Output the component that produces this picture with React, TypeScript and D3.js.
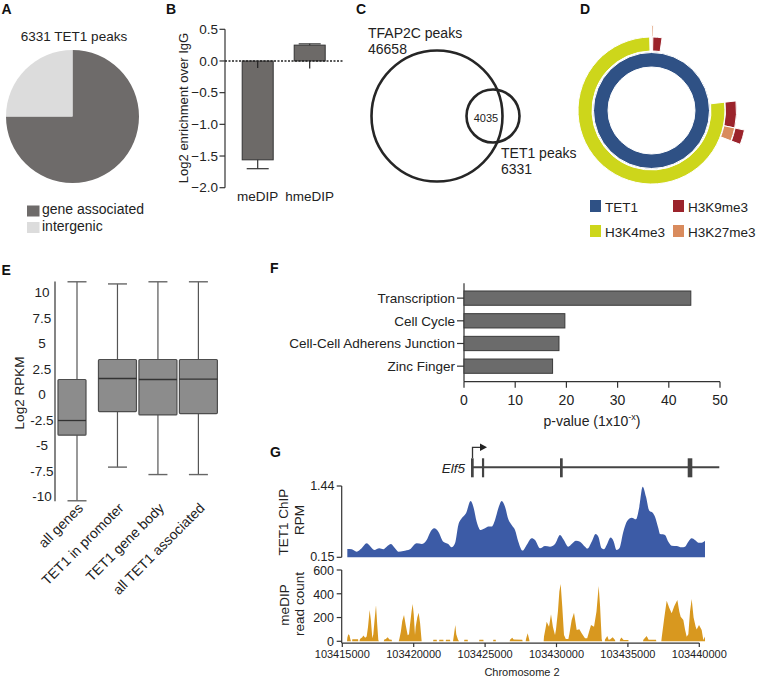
import React from "react";
import * as d3 from "d3";

const FONT = "'Liberation Sans', Arial, Helvetica, sans-serif";

// ---------- Panel A data ----------
const pieCategories = ["gene associated", "intergenic"];
const pieValues = [75, 25];
const pieColors = ["#6e6b6a", "#dcdcdc"];
const pieTitle = "6331 TET1 peaks";

// ---------- Panel B data ----------
const enrichCategories = ["meDIP", "hmeDIP"];
const enrichValues = [-1.56, 0.25];
const enrichErrEnd = [-1.7, 0.27];
const enrichLowStub = [-0.11, -0.12];
const enrichTicks = [0.5, 0, -0.5, -1, -1.5, -2];

// ---------- Panel C data ----------
const vennNames = ["TFAP2C peaks", "TET1 peaks"];
const vennCounts = [46658, 6331];
const vennOverlap = 4035;

// ---------- Panel D data ----------
const sbIds = ["TET1", "TET1/a", "TET1/a/b", "TET1/c", "TET1/d", "TET1/e", "TET1/e/f", "TET1/e/g", "TET1/e/g/h", "TET1/e/i", "TET1/j"];
const sbMarks = ["TET1", "H3K27me3", "H3K27me3", "H3K9me3", "", "H3K4me3", "H3K9me3", "H3K27me3", "H3K9me3", "", ""];
const sbValues = [0, 0, 0.3, 2.0, 20.9, 0, 5.1, 0, 2.5, 68.8, 0.4];
const legendMarks = ["TET1", "H3K9me3", "H3K4me3", "H3K27me3"];
const markColors: Record<string, string> = {
  TET1: "#2f5185",
  H3K4me3: "#cdd61b",
  H3K9me3: "#9b232b",
  H3K27me3: "#d98b5d",
};

// ---------- Panel E data ----------
const boxCategories = ["all genes", "TET1 in promoter", "TET1 gene body", "all TET1 associated"];
const boxMin = [-10.4, -7.1, -7.83, -7.83];
const boxQ1 = [-3.97, -1.65, -1.98, -1.85];
const boxMedian = [-2.53, 1.59, 1.49, 1.52];
const boxQ3 = [1.49, 3.45, 3.45, 3.45];
const boxMax = [11.07, 10.86, 11.07, 11.07];
const boxTicks = [10, 7.5, 5, 2.5, 0, -2.5, -5, -7.5, -10];

// ---------- Panel F data ----------
const goTerms = ["Transcription", "Cell Cycle", "Cell-Cell Adherens Junction", "Zinc Finger"];
const goValues = [44.3, 19.7, 18.55, 17.3];
const goTicks = [0, 10, 20, 30, 40, 50];

// ---------- Panel G data ----------
const chromStart = 103415000;
const chromEnd = 103440000;
const chromTicks = [103415000, 103420000, 103425000, 103430000, 103435000, 103440000];
const geneName = "Elf5";
const geneStart = 103424062;
const geneEnd = 103441400;
const exonStarts = [103424013, 103424780, 103430246, 103439188];
const exonEnds = [103424202, 103424923, 103430435, 103439511];

const chipOffsets = [352, 656, 1006, 1356, 1706, 1939, 2243, 2593, 2873, 3107, 3410, 3690, 3924, 4274, 4741, 5208, 5558, 5908, 6142, 6445, 6725, 7075, 7425, 7659, 7892, 8126, 8359, 8663, 8990, 9176, 9410, 9690, 9993, 10227, 10460, 10694, 10927, 11161, 11394, 11627, 11861, 12094, 12327, 12631, 12911, 13261, 13494, 13845, 14195, 14545, 14895, 15245, 15479, 15829, 16063, 16366, 16646, 16996, 17160, 17463, 17743, 17930, 18163, 18327, 18514, 18794, 18980, 19214, 19400, 19680, 19960, 20264, 20567, 20801, 21034, 21268, 21501, 21735, 21898, 22131, 22248, 22435, 22598, 22831, 23065, 23415, 23765, 23998, 24232, 24466, 24699, 24932, 25166, 25399];
const chipValues = [0.3, 0.295, 0.252, 0.313, 0.403, 0.355, 0.283, 0.313, 0.295, 0.343, 0.391, 0.313, 0.252, 0.265, 0.295, 0.403, 0.391, 0.463, 0.596, 0.674, 0.614, 0.433, 0.391, 0.331, 0.403, 0.735, 0.855, 0.946, 1.169, 1.066, 0.795, 0.644, 0.674, 0.705, 0.705, 0.825, 1.036, 1.169, 1.066, 0.837, 0.735, 0.644, 0.433, 0.271, 0.373, 0.494, 0.463, 0.313, 0.355, 0.343, 0.391, 0.554, 0.476, 0.343, 0.391, 0.451, 0.433, 0.343, 0.307, 0.433, 0.572, 0.524, 0.313, 0.295, 0.373, 0.506, 0.451, 0.283, 0.313, 0.614, 0.813, 0.867, 0.837, 1.066, 1.428, 1.247, 0.994, 0.958, 0.885, 0.674, 0.572, 0.566, 0.554, 0.433, 0.361, 0.355, 0.331, 0.343, 0.433, 0.494, 0.463, 0.415, 0.415, 0.451];

// null separates islands of coverage
const medipOffsets = [
  330, 352, 420, 500, 560, 609, null,
  690, 700, 1100, 1123, null,
  1200, 1240, 1400, 1473, 1600, 1706, 1800, 1916, 2000, 2103, 2173, 2260, 2360, 2440, 2523, 2560, null,
  2900, 2943, 3050, 3177, 3300, 3457, 3480, null,
  3950, 3994, 4100, 4200, 4321, 4450, 4580, 4671, 4741, 4850, 4928, 5000, 5091, 5138, 5250, 5348, 5450, 5558, null,
  6360, 6375, 6609, 6625, null,
  6780, 6795, 7075, 7090, null,
  7245, 7262, 7542, 7560, null,
  7750, 7776, 7860, 7916, 7980, 8100, 8173, null,
  8530, 8546, 8780, 8795, null,
  9580, 9597, 9877, 9895, null,
  10560, 10577, 10741, 10760, null,
  11720, 11744, 11900, 12000, 12600, 12631, null,
  12840, 12865, 12981, 13098, 13110, null,
  14100, 14125, 14250, 14312, 14475, 14615, 14750, 14895, 14965, 15100, 15200, 15292, 15400, 15525, 15650, 15830, 15899, 16063, 16226, 16413, 16599, 16763, 16996, 17150, 17230, 17417, 17627, 17800, 17954, 18050, 18164, 18200, null,
  18380, 18397, 18560, 18650, 18747, 18934, 19097, 19120, null,
  19430, 19447, 19541, 19700, 20031, 20050, null,
  21060, 21081, 21315, 21450, 21968, 21990, null,
  22340, 22366, 22550, 22716, 22900, 23066, 23252, 23462, 23600, 23696, 23882, 24000, 24116, 24232, 24350, 24466, 24600, 24746, 24816, 24980, 25166, 25283, 25400, 25401,
];
const medipValues = [
  0, 30, 59, 50, 20, 0, null,
  0, 18, 18, 0, null,
  0, 20, 35, 48, 30, 40, 120, 264, 180, 25, 60, 180, 303, 150, 10, 0, null,
  0, 15, 20, 34, 15, 12, 0, null,
  0, 20, 80, 170, 222, 130, 50, 60, 140, 250, 314, 230, 53, 120, 200, 241, 150, 0, null,
  0, 14, 14, 0, null,
  0, 14, 14, 0, null,
  0, 14, 14, 0, null,
  0, 20, 90, 137, 60, 15, 0, null,
  0, 14, 14, 0, null,
  0, 14, 14, 0, null,
  0, 14, 14, 0, null,
  0, 12, 30, 15, 14, 0, null,
  0, 20, 67, 10, 0, null,
  0, 40, 120, 165, 123, 227, 120, 53, 100, 250, 420, 482, 300, 53, 20, 20, 60, 180, 241, 95, 101, 67, 25, 25, 60, 137, 123, 250, 466, 300, 20, 0, null,
  0, 15, 45, 12, 15, 34, 10, 0, null,
  0, 12, 31, 10, 10, 0, null,
  0, 12, 45, 12, 12, 0, null,
  0, 30, 200, 342, 280, 235, 297, 348, 250, 207, 180, 100, 39, 60, 250, 356, 200, 123, 100, 137, 95, 11, 40, 0,
];
const chipTicks = [1.44, 0.15];
const medipTicks = [0, 200, 400, 600];

const TXT = "#222";

function PanelLabel({ x, y, t }: { x: number; y: number; t: string }) {
  return (
    <text x={x} y={y} fontSize={14} fontWeight="bold" fill="#111">
      {t}
    </text>
  );
}

function PanelA() {
  const cx = 72.5, cy = 116.5, r = 66.5;
  const arcs = d3.pie<number>().sort(null)(pieValues);
  const arcGen = d3.arc<d3.PieArcDatum<number>>().innerRadius(0).outerRadius(r);
  return (
    <g>
      <PanelLabel x={1.5} y={14} t="A" />
      <text x={74} y={41} textAnchor="middle" fontSize={13.5} fill={TXT}>{pieTitle}</text>
      <g transform={`translate(${cx},${cy})`}>
        {arcs.map((a, i) => (
          <path key={i} d={arcGen(a) || ""} fill={pieColors[i]} />
        ))}
      </g>
      {pieCategories.map((c, i) => (
        <g key={c}>
          <rect x={27} y={205.5 + i * 16.5} width={12.5} height={11} fill={pieColors[i]} />
          <text x={42} y={214 + i * 16.5} fontSize={14} fill={TXT}>{c}</text>
        </g>
      ))}
    </g>
  );
}

function PanelB() {
  const y = d3.scaleLinear().domain([-2, 0.5]).range([187.7, 29.3]);
  const x = d3.scalePoint<string>().domain(enrichCategories).range([257.7, 309.7]);
  const axisX = 225;
  const bw = 31;
  return (
    <g>
      <PanelLabel x={166} y={14} t="B" />
      <line x1={axisX} x2={axisX} y1={y(0.5)} y2={y(-2)} stroke="#333" strokeWidth={1.2} />
      {enrichTicks.map((t) => (
        <g key={t}>
          <line x1={axisX - 5.5} x2={axisX} y1={y(t)} y2={y(t)} stroke="#333" strokeWidth={1.2} />
          <text x={218} y={y(t)} dy="0.35em" textAnchor="end" fontSize={13.5} fill={TXT}>
            {d3.format(".1f")(t)}
          </text>
        </g>
      ))}
      <text transform={`translate(188,108) rotate(-90)`} textAnchor="middle" fontSize={13} fill={TXT}>
        Log2 enrichment over IgG
      </text>
      {enrichCategories.map((c, i) => {
        const cx = x(c)!;
        const v = enrichValues[i];
        const top = Math.min(y(v), y(0));
        const h = Math.abs(y(v) - y(0));
        return (
          <g key={c}>
            <rect x={cx - bw / 2} y={top} width={bw} height={h} fill="#6d6a68" stroke="#333" strokeWidth={1} />
            <line x1={cx} x2={cx} y1={y(v)} y2={y(enrichErrEnd[i])} stroke="#333" strokeWidth={1.2} />
            <line x1={cx - 11} x2={cx + 11} y1={y(enrichErrEnd[i])} y2={y(enrichErrEnd[i])} stroke="#333" strokeWidth={1.2} />
            <line x1={cx} x2={cx} y1={y(0)} y2={y(enrichLowStub[i])} stroke="#222" strokeWidth={1.2} />
            <text x={cx} y={201} textAnchor="middle" fontSize={13.5} fill={TXT}>{c}</text>
          </g>
        );
      })}
      <line x1={axisX} x2={343} y1={y(0)} y2={y(0)} stroke="#222" strokeWidth={1.3} strokeDasharray="2,1.5" />
    </g>
  );
}

function PanelC() {
  const rScale = d3.scaleSqrt().domain([0, vennCounts[0]]).range([0, 65.5]);
  const rBig = rScale(vennCounts[0]);
  const rSmall = 26.5;
  return (
    <g>
      <PanelLabel x={356} y={14} t="C" />
      <circle cx={437} cy={116} r={rBig} fill="none" stroke="#262626" strokeWidth={2.6} />
      <circle cx={493} cy={116} r={rSmall} fill="none" stroke="#262626" strokeWidth={2.6} />
      <text x={486} y={122} textAnchor="middle" fontSize={11} fill={TXT}>{vennOverlap}</text>
      <text x={368} y={38} fontSize={14} fill={TXT}>{vennNames[0]}</text>
      <text x={368} y={53.5} fontSize={14} fill={TXT}>{vennCounts[0]}</text>
      <text x={501} y={158} fontSize={14} fill={TXT}>{vennNames[1]}</text>
      <text x={501} y={173.5} fontSize={14} fill={TXT}>{vennCounts[1]}</text>
    </g>
  );
}

function PanelD() {
  const rows = sbIds.map((id, i) => ({
    id,
    parent: i === 0 ? null : id.slice(0, id.lastIndexOf("/")),
    mark: sbMarks[i],
    value: sbValues[i],
  }));
  const root = d3
    .stratify<any>()
    .id((d) => d.id)
    .parentId((d) => d.parent)(rows)
    .sum((d: any) => d.value);
  d3.partition<any>().size([2 * Math.PI, 1])(root);
  const inner = [43.5, 59.5, 74, 85.5];
  const outer = [58, 73.5, 85, 95];
  const arc = d3
    .arc<any>()
    .startAngle((d) => d.x0)
    .endAngle((d) => d.x1)
    .innerRadius((d) => inner[d.depth])
    .outerRadius((d) => outer[d.depth]);
  const nodes = root.descendants().filter((d: any) => d.data.mark !== "");
  return (
    <g>
      <PanelLabel x={580} y={14} t="D" />
      <g transform="translate(651.5,110.5)">
        {nodes.map((n: any) => (
          <path key={n.id} d={arc(n) || ""} fill={markColors[n.data.mark]} stroke="#fff" strokeWidth={1} />
        ))}
      </g>
      {legendMarks.map((m, i) => {
        const col = i % 2, row = Math.floor(i / 2);
        const lx = 590 + col * 83;
        const ly = 200 + row * 25;
        return (
          <g key={m}>
            <rect x={lx} y={ly} width={11} height={12} fill={markColors[m]} />
            <text x={lx + 15} y={ly + 11.5} fontSize={13.5} fill={TXT}>{m}</text>
          </g>
        );
      })}
    </g>
  );
}

function PanelE() {
  const y = d3.scaleLinear().domain([-10, 10]).range([496.7, 292.7]);
  const x = d3.scalePoint<string>().domain(boxCategories).range([77, 198.4]);
  const halfL = [19, 19, 19, 19];
  const halfR = [9, 19, 19, 19];
  const axisX = 55;
  return (
    <g>
      <PanelLabel x={1.5} y={275} t="E" />
      <line x1={axisX} x2={axisX} y1={y(11.1)} y2={y(-10.45)} stroke="#333" strokeWidth={1.2} />
      {boxTicks.map((t) => (
        <text key={t} x={42} y={y(t)} dy="0.35em" textAnchor="middle" fontSize={13.5} fill={TXT}>
          {t}
        </text>
      ))}
      <text transform="translate(24,393) rotate(-90)" textAnchor="middle" fontSize={13.5} fill={TXT}>
        Log2 RPKM
      </text>
      {boxCategories.map((c, i) => {
        const cx = x(c)!;
        return (
          <g key={c}>
            <line x1={cx} x2={cx} y1={y(boxMax[i])} y2={y(boxMin[i])} stroke="#555" strokeWidth={1.2} />
            <line x1={cx - 9.5} x2={cx + 9.5} y1={y(boxMax[i])} y2={y(boxMax[i])} stroke="#666" strokeWidth={1.4} />
            <line x1={cx - 9.5} x2={cx + 9.5} y1={y(boxMin[i])} y2={y(boxMin[i])} stroke="#666" strokeWidth={1.4} />
            <rect
              x={cx - halfL[i]}
              y={y(boxQ3[i])}
              width={halfL[i] + halfR[i]}
              height={y(boxQ1[i]) - y(boxQ3[i])}
              fill="#8c8c8c"
              stroke="#4d4d4d"
              strokeWidth={1.2}
              rx={1}
            />
            <line x1={cx - halfL[i]} x2={cx + halfR[i]} y1={y(boxMedian[i])} y2={y(boxMedian[i])} stroke="#333" strokeWidth={1.3} />
            <text
              transform={`translate(${cx + 7},${509}) rotate(-45)`}
              textAnchor="end"
              fontSize={14}
              fill={TXT}
            >
              {c}
            </text>
          </g>
        );
      })}
    </g>
  );
}

function PanelF() {
  const x = d3.scaleLinear().domain([0, 50]).range([464, 720]);
  const y = d3.scaleBand<string>().domain(goTerms).range([282.6, 381.7]).paddingInner(0.37).paddingOuter(0.37);
  const axisY = 381.7;
  return (
    <g>
      <PanelLabel x={270} y={273} t="F" />
      <line x1={x(0)} x2={x(0)} y1={283.3} y2={axisY} stroke="#333" strokeWidth={1.2} />
      <line x1={x(0)} x2={x(50)} y1={axisY} y2={axisY} stroke="#333" strokeWidth={1.2} />
      {goTicks.map((t) => (
        <g key={t}>
          <line x1={x(t)} x2={x(t)} y1={axisY} y2={axisY + 6} stroke="#333" strokeWidth={1.2} />
          <text x={x(t)} y={404.5} textAnchor="middle" fontSize={14} fill={TXT}>{t}</text>
        </g>
      ))}
      {goTerms.map((g, i) => {
        const yy = y(g)!;
        const bh = y.bandwidth();
        return (
          <g key={g}>
            <rect x={x(0)} y={yy} width={x(goValues[i]) - x(0)} height={bh} fill="#6b6b6b" stroke="#3a3a3a" strokeWidth={1} />
            <line x1={457} x2={x(0)} y1={yy + bh / 2} y2={yy + bh / 2} stroke="#333" strokeWidth={1.2} />
            <text x={455} y={yy + bh / 2} dy="0.35em" textAnchor="end" fontSize={13.5} fill={TXT}>{g}</text>
          </g>
        );
      })}
      <text x={592} y={426} textAnchor="middle" fontSize={14} fill={TXT}>
        p-value (1x10
        <tspan fontSize={9} dy={-6}>-x</tspan>
        <tspan dy={6}>)</tspan>
      </text>
    </g>
  );
}

function PanelG() {
  const x = d3.scaleLinear().domain([chromStart, chromEnd]).range([342.3, 699.3]);
  const yChip = d3.scaleLinear().domain([0.15, 1.44]).range([557.3, 486]);
  const yMed = d3.scaleLinear().domain([0, 600]).range([641.3, 570]);
  const chipPts = chipOffsets.map((o, i) => [chromStart + o, chipValues[i]] as [number, number]);
  const chipArea = d3
    .area<[number, number]>()
    .x((d) => x(d[0]))
    .y0(yChip(0.15))
    .y1((d) => yChip(d[1]))
    .curve(d3.curveMonotoneX)(chipPts);
  const medPts = medipOffsets.map((o, i) => ({ p: o, v: medipValues[i] }));
  const medArea = d3
    .area<{ p: number | null; v: number | null }>()
    .defined((d) => d.p !== null && d.v !== null)
    .x((d) => x(chromStart + (d.p as number)))
    .y0(yMed(0))
    .y1((d) => yMed(d.v as number))(medPts);
  const geneY = 467.3;
  const axisLeft = 341.7;
  const xAxisY = yMed(0) + 1.8;
  const tssX = x(geneStart);
  return (
    <g>
      <PanelLabel x={270} y={456.5} t="G" />
      <text x={465} y={472.5} textAnchor="end" fontSize={13.5} fontStyle="italic" fill={TXT}>{geneName}</text>
      <line x1={x(geneStart)} x2={x(geneEnd)} y1={geneY} y2={geneY} stroke="#444" strokeWidth={2} />
      {exonStarts.map((s, i) => (
        <rect key={i} x={x(s)} y={458.3} width={Math.max(2.2, x(exonEnds[i]) - x(s))} height={19} fill="#444" />
      ))}
      <path d={`M${tssX + 0.8},458.3 V447.3 H480.5`} fill="none" stroke="#333" strokeWidth={1.3} />
      <path d={`M480,443.5 L487,447.3 L480,451.1 Z`} fill="#222" />
      <path d={chipArea || ""} fill="#3c5ba6" />
      <line x1={axisLeft} x2={axisLeft} y1={yChip(1.44)} y2={yChip(0.15)} stroke="#333" strokeWidth={1.2} />
      {chipTicks.map((t) => (
        <g key={t}>
          <line x1={axisLeft - 5} x2={axisLeft} y1={yChip(t)} y2={yChip(t)} stroke="#333" strokeWidth={1.2} />
          <text x={334.5} y={yChip(t)} dy="0.3em" textAnchor="end" fontSize={12.5} fill={TXT}>{t}</text>
        </g>
      ))}
      <text transform="translate(288,522) rotate(-90)" textAnchor="middle" fontSize={13.5} fill={TXT}>TET1 ChIP</text>
      <text transform="translate(303.5,520) rotate(-90)" textAnchor="middle" fontSize={13.5} fill={TXT}>RPM</text>
      <path d={medArea || ""} fill="#d8981f" />
      <line x1={axisLeft} x2={axisLeft} y1={yMed(600)} y2={xAxisY} stroke="#333" strokeWidth={1.2} />
      {medipTicks.map((t) => (
        <g key={t}>
          <line x1={axisLeft - 5} x2={axisLeft} y1={yMed(t)} y2={yMed(t)} stroke="#333" strokeWidth={1.2} />
          <text x={334} y={yMed(t)} dy="0.38em" textAnchor="end" fontSize={12.5} fill={TXT}>{t}</text>
        </g>
      ))}
      <text transform="translate(288.5,605) rotate(-90)" textAnchor="middle" fontSize={13.5} fill={TXT}>meDIP</text>
      <text transform="translate(303.5,604) rotate(-90)" textAnchor="middle" fontSize={13.5} fill={TXT}>read count</text>
      <line x1={axisLeft} x2={x(chromEnd)} y1={xAxisY} y2={xAxisY} stroke="#333" strokeWidth={1.2} />
      {chromTicks.map((t) => (
        <g key={t}>
          <line x1={x(t)} x2={x(t)} y1={xAxisY} y2={xAxisY + 4} stroke="#333" strokeWidth={1.2} />
          <text x={x(t)} y={658} textAnchor="middle" fontSize={11} fill={TXT}>{d3.format("d")(t)}</text>
        </g>
      ))}
      <text x={522} y={675.5} textAnchor="middle" fontSize={11} fill={TXT}>Chromosome 2</text>
    </g>
  );
}

export default function App() {
  return (
    <div style={{ position: "absolute", left: 0, top: 0 }}>
      <svg width={757} height={679} style={{ display: "block", fontFamily: FONT }}>
        <rect width={757} height={679} fill="#fff" />
        <PanelA />
        <PanelB />
        <PanelC />
        <PanelD />
        <PanelE />
        <PanelF />
        <PanelG />
      </svg>
    </div>
  );
}
